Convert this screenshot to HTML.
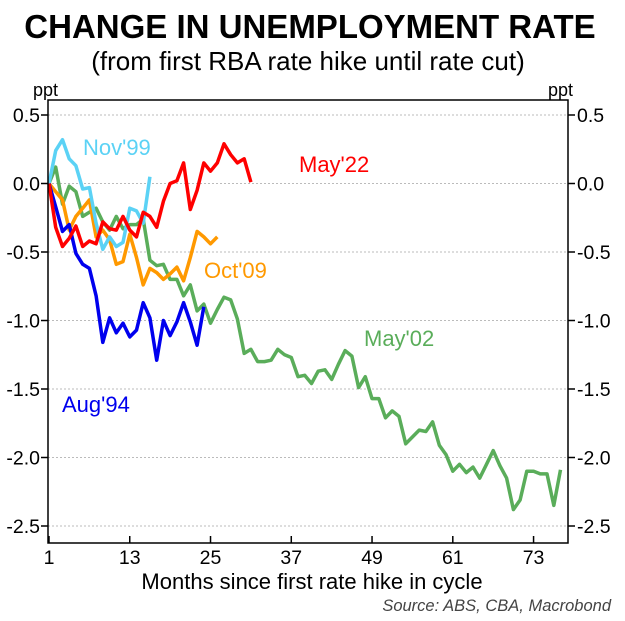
<!DOCTYPE html>
<html><head><meta charset="utf-8"><style>
body{margin:0;background:#fff;}
svg text{font-family:"Liberation Sans",sans-serif;}
</style></head><body>
<svg id="chart" width="625" height="616" xmlns="http://www.w3.org/2000/svg">
<text x="310" y="38" text-anchor="middle" font-size="33" font-weight="bold">CHANGE IN UNEMPLOYMENT RATE</text>
<text x="308" y="70" text-anchor="middle" font-size="26">(from first RBA rate hike until rate cut)</text>
<text x="33" y="96" font-size="18">ppt</text>
<text x="548" y="96" font-size="18">ppt</text>
<g id="grid"></g><g id="series"></g><g id="axes"></g>
<text x="312" y="589" text-anchor="middle" font-size="22">Months since first rate hike in cycle</text>
<text x="611" y="611" text-anchor="end" font-size="16.5" font-style="italic" fill="#444">Source: ABS, CBA, Macrobond</text>
<text x="83" y="155" font-size="22" fill="#5bd2f5">Nov'99</text>
<text x="299" y="172" font-size="22" fill="#f00">May'22</text>
<text x="204" y="278" font-size="22" fill="#ff9900">Oct'09</text>
<text x="364" y="346" font-size="22" fill="#5aad5a">May'02</text>
<text x="62" y="412" font-size="22" fill="#0000ee">Aug'94</text>
</svg>
<script>
const xTicks=[1,13,25,37,49,61,73];
const yTicks=[0.5,0,-0.5,-1,-1.5,-2,-2.5];
const yTickLabels=["0.5","0.0","-0.5","-1.0","-1.5","-2.0","-2.5"];
const nov99=[0,0.24,0.32,0.18,0.13,-0.04,-0.03,-0.29,-0.48,-0.39,-0.46,-0.43,-0.18,-0.2,-0.29,0.05];
const may22=[0,-0.32,-0.46,-0.40,-0.31,-0.46,-0.42,-0.44,-0.28,-0.33,-0.34,-0.24,-0.34,-0.39,-0.21,-0.24,-0.32,-0.13,0,0.02,0.15,-0.19,-0.05,0.15,0.09,0.15,0.29,0.21,0.15,0.18,0.01];
const oct09=[0,-0.06,-0.12,-0.34,-0.24,-0.18,-0.12,-0.39,-0.34,-0.41,-0.59,-0.57,-0.37,-0.54,-0.74,-0.62,-0.65,-0.70,-0.66,-0.61,-0.71,-0.54,-0.35,-0.39,-0.44,-0.39];
const aug94=[0,-0.17,-0.35,-0.30,-0.51,-0.59,-0.62,-0.82,-1.16,-0.98,-1.09,-1.02,-1.12,-1.07,-0.87,-0.98,-1.29,-1.00,-1.11,-1.01,-0.87,-1.01,-1.18,-0.90];
const may02=[0,0.12,-0.15,-0.02,-0.06,-0.24,-0.21,-0.18,-0.28,-0.34,-0.24,-0.33,-0.30,-0.30,-0.26,-0.56,-0.60,-0.59,-0.70,-0.70,-0.82,-0.74,-0.93,-0.88,-1.02,-0.92,-0.83,-0.85,-0.99,-1.24,-1.21,-1.30,-1.30,-1.29,-1.21,-1.25,-1.27,-1.41,-1.40,-1.46,-1.37,-1.36,-1.43,-1.32,-1.22,-1.26,-1.49,-1.41,-1.57,-1.57,-1.71,-1.66,-1.70,-1.90,-1.85,-1.80,-1.81,-1.74,-1.91,-1.98,-2.10,-2.05,-2.11,-2.07,-2.15,-2.05,-1.95,-2.06,-2.15,-2.38,-2.31,-2.10,-2.10,-2.12,-2.12,-2.35,-2.09];
const L=48,R=568,T=100,B=543;
function xs(m){return 49+(m-1)*6.73;}
function ys(v){return 183.5-v*137;}
const NS="http://www.w3.org/2000/svg";
function mk(tag,parent,attrs){const e=document.createElementNS(NS,tag);for(const k in attrs)e.setAttribute(k,attrs[k]);parent.appendChild(e);return e;}
const grid=document.getElementById('grid'),axes=document.getElementById('axes'),ser=document.getElementById('series');
yTicks.forEach((v,i)=>{
 const g=mk('line',grid,{x1:L,x2:R,y1:ys(v),y2:ys(v),stroke:'#bbb','stroke-dasharray':'2,2','stroke-width':1});
 
 
 mk('line',axes,{x1:L-7,x2:L,y1:ys(v),y2:ys(v),stroke:'#000','stroke-width':1.5});
 mk('line',axes,{x1:R,x2:R+7,y1:ys(v),y2:ys(v),stroke:'#000','stroke-width':1.5});
 const t1=mk('text',axes,{x:L-8,y:ys(v)+7,'text-anchor':'end','font-size':19.5});t1.textContent=yTickLabels[i];
 
 
 const t2=mk('text',axes,{x:R+9,y:ys(v)+7,'font-size':19.5});t2.textContent=yTickLabels[i];
 
 
});
mk('rect',axes,{x:L,y:T,width:R-L,height:B-T,fill:'none',stroke:'#000','stroke-width':1.5});
xTicks.forEach(m=>{
 mk('line',axes,{x1:xs(m),x2:xs(m),y1:B,y2:B-7,stroke:'#000','stroke-width':1.5});
 const t=mk('text',axes,{x:xs(m),y:B+21,'text-anchor':'middle','font-size':19.5});t.textContent=m;
 
 
});
function line(data,color,name){
 const p=data.map((v,i)=>xs(i+1).toFixed(1)+','+ys(v).toFixed(1)).join(' ');
 const e=mk('polyline',ser,{points:p,fill:'none',stroke:color,'stroke-width':3.5,'stroke-linejoin':'round'});
 
 
}
line(may02,'#5aad5a','series-may02');
line(oct09,'#ff9900','series-oct09');
line(nov99,'#5bd2f5','series-nov99');
line(aug94,'#0000ee','series-aug94');
line(may22,'#ff0000','series-may22');
</script>
</body></html>
